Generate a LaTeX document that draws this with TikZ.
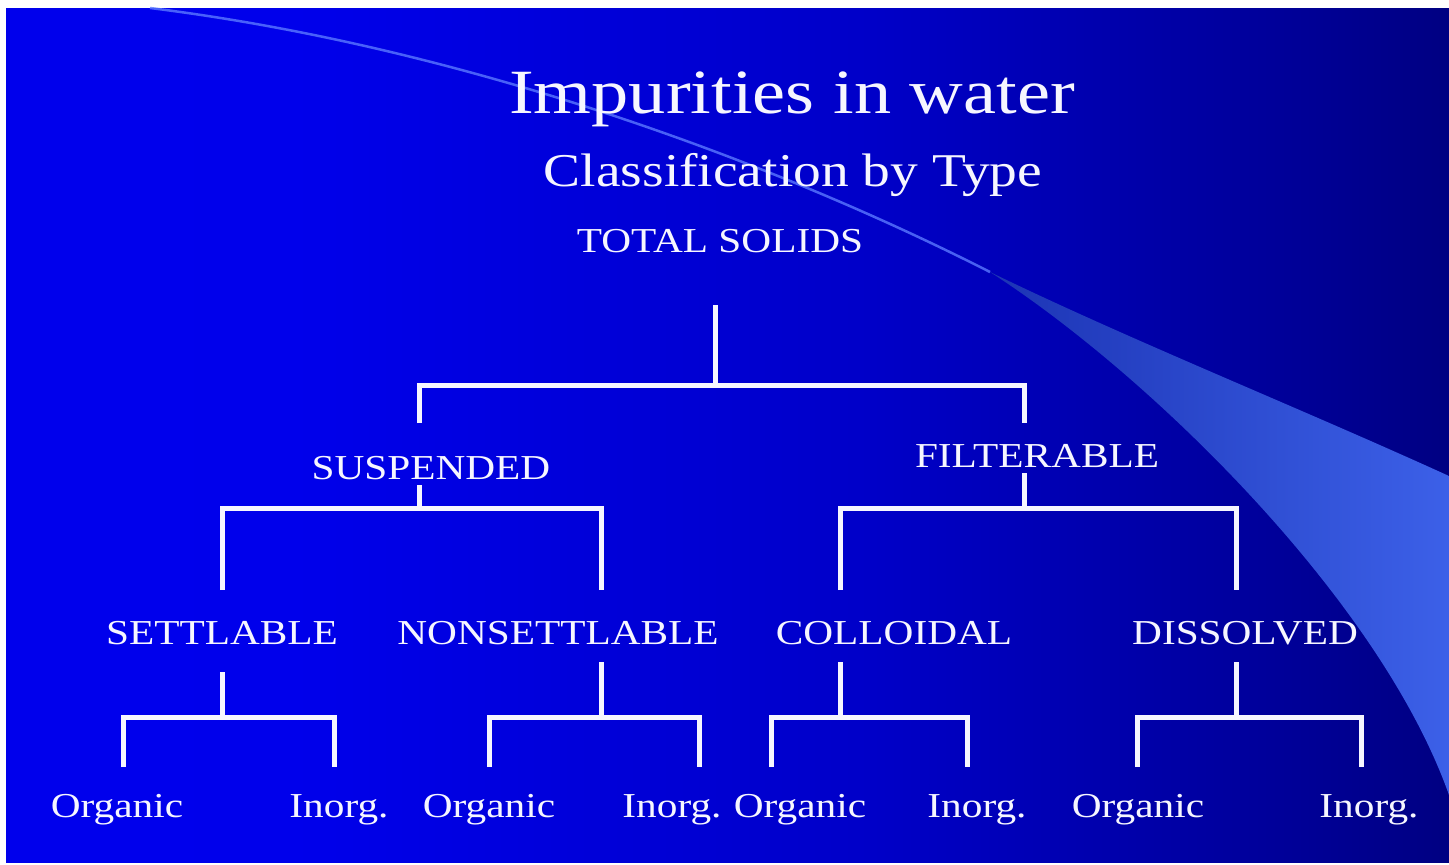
\documentclass[tikz,border=0pt]{standalone}
\usepackage{fontspec}
\setmainfont{Liberation Serif}
\usepackage{graphicx}
\definecolor{txt}{RGB}{246,246,255}
\definecolor{bgA}{RGB}{0,0,240}
\definecolor{bgB}{RGB}{0,0,235}
\definecolor{bgC}{RGB}{0,0,200}
\definecolor{bgD}{RGB}{0,0,150}
\definecolor{bgE}{RGB}{0,0,110}
\definecolor{bgG}{RGB}{0,0,75}
\definecolor{bgF}{RGB}{0,0,45}
\definecolor{swL}{RGB}{28,52,180}
\definecolor{swR}{RGB}{60,96,232}
\definecolor{thinline}{RGB}{90,120,255}
\pgfdeclarehorizontalshading{bgshade}{100bp}{color(0bp)=(bgA); color(35bp)=(bgB); color(55bp)=(bgC); color(70bp)=(bgD); color(80bp)=(bgE); color(90bp)=(bgG); color(100bp)=(bgF)}
\newcommand{\stretchx}[1]{\scalebox{1.18}[1]{#1}}
\tikzset{
  lbl/.style={text=txt, inner sep=0pt, anchor=base, font=\fontsize{35}{40}\selectfont},
  ttl/.style={lbl, font=\fontsize{63}{70}\selectfont},
  subt/.style={lbl, font=\fontsize{47}{52}\selectfont},
  conn/.style={draw=txt, line width=5pt}
}
\begin{document}
\begin{tikzpicture}[x=1pt,y=-1pt]
\useasboundingbox (0,0) rectangle (1449,865);
\fill[white] (0,0) rectangle (1449,865);
\shade[shading=bgshade] (6,8) rectangle (1449,862);
% swoosh
\shade[left color=swL, right color=swR]
  (990,272) .. controls (1130,340) and (1300,408) .. (1449,476)
  -- (1449,795) .. controls (1380,600) and (1150,375) .. (990,272) -- cycle;
\draw[draw=thinline, line width=2.5pt, opacity=0.8] (150,8) .. controls (450,45) and (760,155) .. (990,272);
% texts
\node[ttl] (title) at (792,113) {\stretchx{Impurities in water}};
\node[subt] (sub) at (793,186) {\stretchx{Classification by Type}};
\node[lbl] (total) at (720,252) {\stretchx{TOTAL SOLIDS}};
\node[lbl] (susp) at (431,479) {\stretchx{SUSPENDED}};
\node[lbl] (filt) at (1037,467) {\stretchx{FILTERABLE}};
\node[lbl] (sett) at (222,644) {\stretchx{SETTLABLE}};
\node[lbl] (nons) at (558,644) {\stretchx{NONSETTLABLE}};
\node[lbl] (coll) at (894,644) {\stretchx{COLLOIDAL}};
\node[lbl] (diss) at (1245,644) {\stretchx{DISSOLVED}};
\node[lbl] (o1) at (117,817) {\stretchx{Organic}};
\node[lbl] (i1) at (339,817) {\stretchx{Inorg.}};
\node[lbl] (o2) at (489,817) {\stretchx{Organic}};
\node[lbl] (i2) at (672,817) {\stretchx{Inorg.}};
\node[lbl] (o3) at (800,817) {\stretchx{Organic}};
\node[lbl] (i3) at (977,817) {\stretchx{Inorg.}};
\node[lbl] (o4) at (1138,817) {\stretchx{Organic}};
\node[lbl] (i4) at (1369,817) {\stretchx{Inorg.}};
% connector coordinates
\coordinate (t0) at (715,305);
\coordinate (t1) at (715,385);
\coordinate (sA) at (419,423);
\coordinate (fA) at (1024,423);
\coordinate (s0) at (419,485);
\coordinate (s1) at (419,508);
\coordinate (f0) at (1024,473);
\coordinate (f1) at (1024,508);
\coordinate (seA) at (222,590);
\coordinate (nA) at (601,590);
\coordinate (cA) at (840,590);
\coordinate (dA) at (1236,590);
\coordinate (se0) at (222,672);
\coordinate (se1) at (222,717);
\coordinate (n0) at (601,662);
\coordinate (n1) at (601,717);
\coordinate (c0) at (840,662);
\coordinate (c1) at (840,717);
\coordinate (d0) at (1236,662);
\coordinate (d1) at (1236,717);
\coordinate (o1A) at (123,767);
\coordinate (i1A) at (334,767);
\coordinate (o2A) at (489,767);
\coordinate (i2A) at (699,767);
\coordinate (o3A) at (771,767);
\coordinate (i3A) at (967,767);
\coordinate (o4A) at (1137,767);
\coordinate (i4A) at (1361,767);
% connectors
\draw[conn] (t0) -- (t1);
\draw[conn] (sA) |- (t1) -| (fA);
\draw[conn] (s0) -- (s1);
\draw[conn] (seA) |- (s1) -| (nA);
\draw[conn] (f0) -- (f1);
\draw[conn] (cA) |- (f1) -| (dA);
\draw[conn] (se0) -- (se1);
\draw[conn] (o1A) |- (se1) -| (i1A);
\draw[conn] (n0) -- (n1);
\draw[conn] (o2A) |- (n1) -| (i2A);
\draw[conn] (c0) -- (c1);
\draw[conn] (o3A) |- (c1) -| (i3A);
\draw[conn] (d0) -- (d1);
\draw[conn] (o4A) |- (d1) -| (i4A);
\end{tikzpicture}
\end{document}
